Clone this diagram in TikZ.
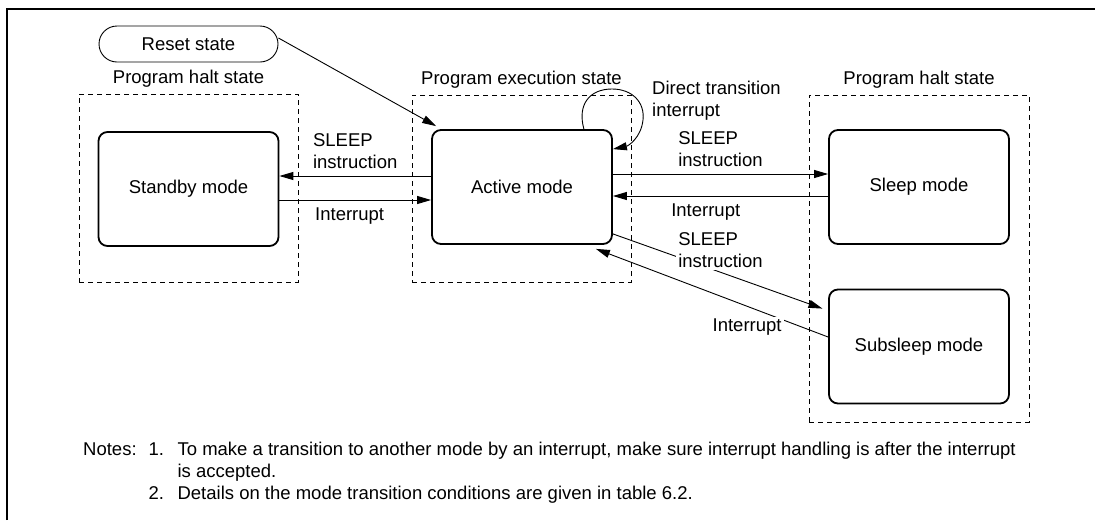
\documentclass[tikz,border=0pt]{standalone}
\usepackage{fontspec}
\setmainfont{Liberation Sans}
\usetikzlibrary{arrows.meta,positioning}

\begin{document}
\begin{tikzpicture}[
  x=1pt,y=-1pt,
  font=\fontsize{18.5pt}{22pt}\selectfont,
  node distance=4.5pt,
  modebox/.style={draw,line width=1.8pt,rounded corners=9pt,minimum width=180pt,
                  minimum height=114pt,inner sep=0pt},
  region/.style={draw,line width=0.9pt,dash pattern=on 5pt off 4pt,inner sep=0pt},
  tag/.style={inner sep=2pt,align=left},
  arrow/.style={-{Triangle[length=14pt,width=8pt]},line width=0.9pt}
]
\useasboundingbox (0,0) rectangle (1095,520);
\draw[line width=2pt] (7,520) -- (7,9) -- (1095,9);

% dashed state areas
\node[region,minimum width=219pt,minimum height=188pt] (haltleft) at (188.5,188) {};
\node[region,minimum width=219pt,minimum height=187pt] (exec) at (521.5,188.5) {};
\node[region,minimum width=220pt,minimum height=327pt] (haltright) at (919,258.5) {};
\node[tag,above=of haltleft] {Program halt state};
\node[tag,above=of exec] {Program execution state};
\node[tag,above=of haltright] {Program halt state};

% modes
\node[draw,line width=0.9pt,rounded corners=18pt,minimum width=179pt,minimum height=36pt] (reset) at (188.5,44) {Reset state};
\node[modebox] (standby) at (188.5,189) {Standby mode};
\node[modebox] (active) at (522,187) {Active mode};
\node[modebox] (sleep) at (919,187) {Sleep mode};
\node[modebox] (subsleep) at (919,346.5) {Subsleep mode};

% transitions
\draw[arrow] ([yshift=6pt]reset.east) -- ([xshift=5pt,yshift=3pt]active.north west);
\draw[arrow] ([yshift=11pt]active.west) -- ([yshift=13pt]standby.east)
  node[tag,midway,above=5pt] {SLEEP\\instruction};
\draw[arrow] ([yshift=-11pt]standby.east) -- ([yshift=-13pt]active.west)
  node[tag,pos=0.22,anchor=north west,yshift=-5pt] {Interrupt};
\draw[arrow] ([yshift=13pt]active.east) -- ([yshift=13pt]sleep.west)
  node[tag,midway,above=4.5pt] {SLEEP\\instruction};
\draw[arrow] ([yshift=-9pt]sleep.west) -- ([yshift=-9pt]active.east)
  node[tag,pos=0.74,anchor=north west,yshift=-5pt] {Interrupt};
\draw[arrow,shorten >=6pt] ([yshift=11pt]active.south east) -- ([yshift=-22pt]subsleep.north west)
  node[tag,pos=0.5,anchor=south,yshift=2pt,fill=white] {SLEEP\\instruction};
\draw[arrow] ([yshift=9.5pt]subsleep.west) -- ([xshift=-17pt,yshift=-4pt]active.south east)
  node[tag,pos=0.19,anchor=north east,yshift=3.5pt,fill=white] {Interrupt};

% direct transition loop
\coordinate (looptop) at (612,89);
\draw[arrow] ([xshift=-29pt]active.north east) .. controls (577,104) and (590,89) .. (looptop)
  .. controls (632,89) and (645,102) .. (643,120)
  .. controls (641,138) and (628,146) .. ([yshift=-20pt]active.north east);
\node[tag,anchor=west] (direct) at (650,101) {Direct transition\\interrupt};

% notes
\node[anchor=base west,inner sep=0pt] (notes) at (83,455.6) {\begin{tabular}[t]{@{}l@{\hspace{12pt}}l@{\hspace{13.5pt}}l@{}}
Notes: & 1. & To make a transition to another mode by an interrupt, make sure interrupt handling is after the interrupt\\
 & & is accepted.\\
 & 2. & Details on the mode transition conditions are given in table 6.2.
\end{tabular}};
\end{tikzpicture}
\end{document}
